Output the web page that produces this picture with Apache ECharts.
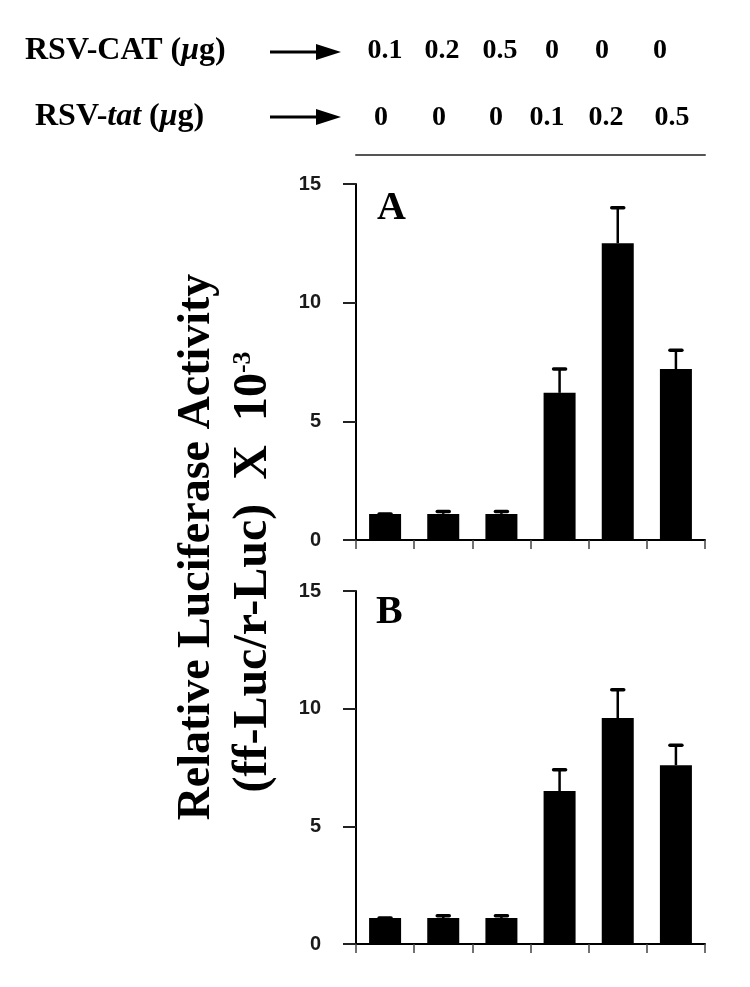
<!DOCTYPE html>
<html>
<head>
<meta charset="utf-8">
<script src="https://cdn.jsdelivr.net/npm/echarts@6/dist/echarts.min.js"></script>
<style>
  html, body { margin: 0; padding: 0; background: #fff; }
  #chart { width: 750px; height: 987px; }
</style>
</head>
<body>
<div id="chart"></div>
<script>
// doses (ug) for each lane
const catDose = ['0.1', '0.2', '0.5', '0', '0', '0'];
const tatDose = ['0', '0', '0', '0.1', '0.2', '0.5'];
const lanes = ['1', '2', '3', '4', '5', '6'];

// relative luciferase activity (x 10^-3), panel A and B
const valuesA = [1.1, 1.1, 1.1, 6.2, 12.5, 7.2];
const errorsA = [0, 0.1, 0.1, 1.0, 1.5, 0.8];
const valuesB = [1.1, 1.1, 1.1, 6.5, 9.6, 7.6];
const errorsB = [0, 0.1, 0.1, 0.9, 1.2, 0.85];

const yTicks = { min: 0, max: 15, interval: 5 };

// header layout (pixel centres of the dose numbers)
const row1X = [385, 442, 500, 552, 602, 660];
const row2X = [381, 439, 496, 547, 606, 672];

const serif = '"Liberation Serif", "Times New Roman", serif';
const sans = '"Liberation Sans", Arial, sans-serif';

var chart = echarts.init(document.getElementById('chart'));

function errRender(params, api) {
  let i = api.value(0);
  let v = api.value(1);
  let e = api.value(2);
  let base = api.coord([i, v]);
  let top = api.coord([i, v + e]);
  return {
    type: 'group',
    children: [
      {
        type: 'line',
        shape: { x1: base[0], y1: base[1], x2: top[0], y2: top[1] },
        style: { stroke: '#000', lineWidth: 2.5 }
      },
      {
        type: 'line',
        shape: { x1: top[0] - 6, y1: top[1], x2: top[0] + 6, y2: top[1] },
        style: { stroke: '#000', lineWidth: 3.5, lineCap: 'round' }
      }
    ]
  };
}

function yAxisCfg(grid) {
  return {
    type: 'value',
    gridIndex: grid,
    min: yTicks.min,
    max: yTicks.max,
    interval: yTicks.interval,
    splitLine: { show: false },
    axisLine: { show: true, lineStyle: { color: '#000', width: 2 } },
    axisTick: { show: true, length: 13, lineStyle: { color: '#222', width: 2 } },
    axisLabel: { margin: 35, fontFamily: sans, fontSize: 20, fontWeight: 'bold', color: '#1a1a1a' }
  };
}

function xAxisCfg(grid) {
  return {
    type: 'category',
    gridIndex: grid,
    data: lanes,
    axisLine: { show: true, lineStyle: { color: '#000', width: 2 } },
    axisTick: { show: true, length: 9, lineStyle: { color: '#444', width: 1.5 } },
    axisLabel: { show: false }
  };
}

let graphics = [];
catDose.forEach((d, i) => {
  graphics.push({
    type: 'text', x: row1X[i], y: 51,
    style: { text: d, font: 'bold 28px ' + serif, fill: '#000', align: 'center', verticalAlign: 'middle' }
  });
});
tatDose.forEach((d, i) => {
  graphics.push({
    type: 'text', x: row2X[i], y: 118,
    style: { text: d, font: 'bold 28px ' + serif, fill: '#000', align: 'center', verticalAlign: 'middle' }
  });
});

graphics.push(
  {
    type: 'text', x: 25, y: 51,
    style: {
      text: 'RSV-CAT ({i|μ}g)',
      font: 'bold 32px ' + serif, fill: '#000', align: 'left', verticalAlign: 'middle',
      rich: { i: { fontFamily: serif, fontSize: 32, fontWeight: 'bold', fontStyle: 'italic' } }
    }
  },
  {
    type: 'text', x: 35, y: 117,
    style: {
      text: 'RSV-{i|tat} ({i|μ}g)',
      font: 'bold 32px ' + serif, fill: '#000', align: 'left', verticalAlign: 'middle',
      rich: { i: { fontFamily: serif, fontSize: 32, fontWeight: 'bold', fontStyle: 'italic' } }
    }
  },
  // arrows
  { type: 'line', shape: { x1: 270, y1: 52, x2: 322, y2: 52 }, style: { stroke: '#000', lineWidth: 3 } },
  { type: 'polygon', shape: { points: [[316, 44], [341, 52], [316, 60]] }, style: { fill: '#000' } },
  { type: 'line', shape: { x1: 270, y1: 117, x2: 322, y2: 117 }, style: { stroke: '#000', lineWidth: 3 } },
  { type: 'polygon', shape: { points: [[316, 109], [341, 117], [316, 125]] }, style: { fill: '#000' } },
  // panel letters
  { type: 'text', x: 377, y: 209, style: { text: 'A', font: 'bold 40px ' + serif, fill: '#000', verticalAlign: 'middle' } },
  { type: 'text', x: 376, y: 613, style: { text: 'B', font: 'bold 40px ' + serif, fill: '#000', verticalAlign: 'middle' } },
  // y axis title, two rotated lines
  {
    type: 'text', x: 197, y: 547, rotation: Math.PI / 2,
    style: { text: 'Relative Luciferase Activity', font: 'bold 46px ' + serif, fill: '#000', align: 'center', verticalAlign: 'middle' }
  },
  {
    type: 'text', x: 254, y: 572, rotation: Math.PI / 2,
    style: {
      text: '(ff-Luc/r-Luc)  X  10{sup|-3}',
      font: 'bold 48px ' + serif, fill: '#000', align: 'center', verticalAlign: 'middle',
      rich: { sup: { fontFamily: serif, fontSize: 26, fontWeight: 'bold', verticalAlign: 'top', lineHeight: 48 } }
    }
  }
);

var option = {
  backgroundColor: '#fff',
  animation: false,
  grid: [
    { left: 356, right: 45, top: 184, height: 356 },
    { left: 356, right: 45, top: 591, height: 353 }
  ],
  xAxis: [
    xAxisCfg(0),
    xAxisCfg(1),
    {
      // rule under the dose rows
      type: 'category', gridIndex: 0, data: lanes, position: 'top', offset: 29,
      axisLine: { show: true, lineStyle: { color: '#555', width: 2 } },
      axisTick: { show: false },
      axisLabel: { show: false }
    }
  ],
  yAxis: [yAxisCfg(0), yAxisCfg(1)],
  series: [
    {
      type: 'bar', xAxisIndex: 0, yAxisIndex: 0, data: valuesA,
      barWidth: 32, itemStyle: { color: '#000' }
    },
    {
      type: 'custom', xAxisIndex: 0, yAxisIndex: 0, z: 3,
      data: valuesA.map((v, i) => [i, v, errorsA[i]]),
      renderItem: errRender
    },
    {
      type: 'bar', xAxisIndex: 1, yAxisIndex: 1, data: valuesB,
      barWidth: 32, itemStyle: { color: '#000' }
    },
    {
      type: 'custom', xAxisIndex: 1, yAxisIndex: 1, z: 3,
      data: valuesB.map((v, i) => [i, v, errorsB[i]]),
      renderItem: errRender
    }
  ],
  graphic: graphics
};

chart.setOption(option);
</script>
</body>
</html>
